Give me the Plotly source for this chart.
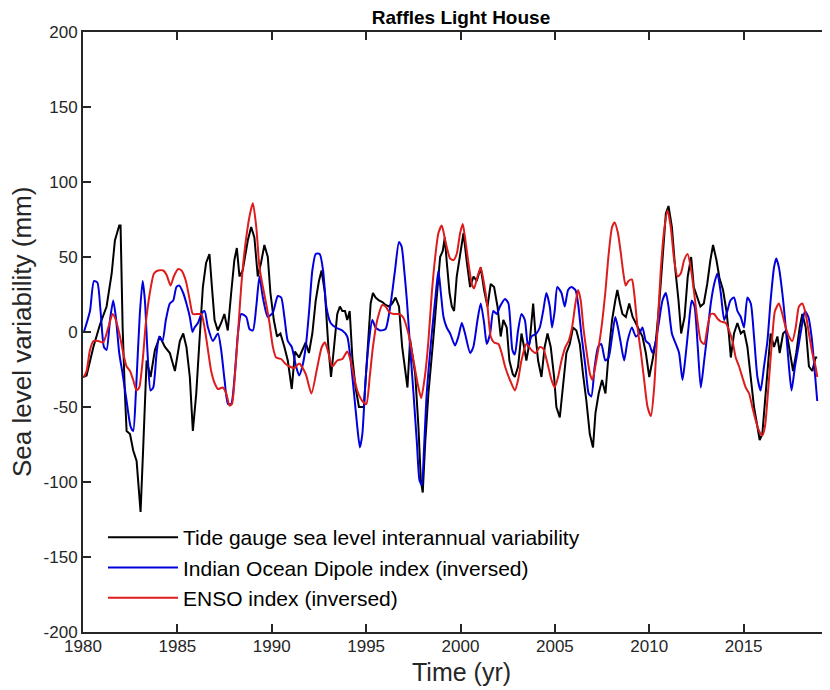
import plotly.graph_objects as go

# ---- Data ----
tg_years = [1980.0, 1980.19, 1980.55, 1980.90, 1981.25, 1981.52, 1981.69, 1981.92, 1981.99, 1982.10,
            1982.22, 1982.31, 1982.49, 1982.66, 1982.84, 1983.0, 1983.05, 1983.19, 1983.37, 1983.58,
            1983.81, 1984.07, 1984.34, 1984.60, 1984.87, 1985.13, 1985.31, 1985.48, 1985.66, 1985.82,
            1986.0, 1986.17, 1986.35, 1986.52, 1986.70, 1986.83, 1986.97, 1987.14, 1987.32, 1987.49,
            1987.67, 1987.85, 1988.02, 1988.15, 1988.29, 1988.46, 1988.73, 1988.91, 1989.08, 1989.26,
            1989.43, 1989.61, 1989.79, 1989.93, 1990.11, 1990.28, 1990.46, 1990.67, 1990.85, 1991.06,
            1991.23, 1991.45, 1991.62, 1991.80, 1991.97, 1992.15, 1992.33, 1992.50, 1992.64, 1992.82,
            1993.00, 1993.14, 1993.30, 1993.47, 1993.61, 1993.74, 1993.88, 1994.00, 1994.13, 1994.27,
            1994.44, 1994.62, 1994.88, 1995.06, 1995.24, 1995.36, 1995.50, 1995.68, 1995.86, 1996.03,
            1996.21, 1996.38, 1996.56, 1996.74, 1996.91, 1997.19, 1997.33, 1997.60, 1997.77, 1997.90,
            1998.00, 1998.13, 1998.30, 1998.57, 1998.74, 1998.92, 1999.06, 1999.17, 1999.27, 1999.42,
            1999.54, 1999.66, 1999.80, 1999.98, 2000.16, 2000.33, 2000.51, 2000.69, 2000.86, 2001.07,
            2001.25, 2001.43, 2001.60, 2001.78, 2001.96, 2002.13, 2002.27, 2002.45, 2002.59, 2002.77,
            2002.88, 2003.05, 2003.23, 2003.37, 2003.49, 2003.67, 2003.85, 2003.97, 2004.11, 2004.29,
            2004.46, 2004.61, 2004.78, 2004.96, 2005.08, 2005.26, 2005.43, 2005.61, 2005.79, 2005.96,
            2006.14, 2006.32, 2006.49, 2006.67, 2006.85, 2007.02, 2007.15, 2007.32, 2007.50, 2007.68,
            2007.85, 2008.03, 2008.20, 2008.31, 2008.45, 2008.58, 2008.76, 2008.94, 2009.12, 2009.38,
            2009.64, 2009.82, 2010.00, 2010.17, 2010.35, 2010.53, 2010.70, 2010.88, 2011.02, 2011.20,
            2011.37, 2011.55, 2011.69, 2011.87, 2012.04, 2012.22, 2012.36, 2012.54, 2012.71, 2012.89,
            2013.07, 2013.24, 2013.38, 2013.56, 2013.72, 2013.91, 2014.09, 2014.23, 2014.32, 2014.49,
            2014.67, 2014.85, 2015.02, 2015.20, 2015.38, 2015.55, 2015.73, 2015.85, 2015.99, 2016.17,
            2016.35, 2016.43, 2016.61, 2016.79, 2016.91, 2017.09, 2017.26, 2017.44, 2017.62, 2017.79,
            2017.97, 2018.11, 2018.29, 2018.46, 2018.64, 2018.81, 2018.90]
tg_values = [-30, -29, -10, 5, 17, 39, 61, 71, 71, 3,
             -41, -66, -68, -79, -86, -110, -120, -77, -19, -30,
             -12, -3, -10, -14, -26, -6, -1, -10, -30, -66,
             -41, -6, 30, 46, 52, 30, 8, 1, 6, 12,
             1, 26, 48, 56, 37, 41, 61, 70, 63, 37,
             46, 58, 50, 26, 8, -3, -1, -10, -19, -38,
             -13, -17, -12, -7, -14, -1, 21, 34, 41, 26,
             -10, -30, -10, 12, 17, 14, 14, 8, 14, -17,
             -37, -50, -50, -17, 19, 26, 23, 21, 20, 18,
             17, 19, 23, 17, -10, -37, -5, -28, -63, -99,
             -107, -74, -41, -3, 26, 50, 54, 63, 47, 26,
             17, 14, 37, 52, 66, 47, 30, 37, 34, 43,
             28, 17, 32, 30, 17, -3, 8, 3, -19, -28,
             -30, -23, -1, -10, -19, -6, 19, -1, -19, -30,
             -10, -1, -10, -30, -50, -57, -37, -14, -8, 3,
             1, -8, -28, -46, -68, -77, -54, -41, -32, -41,
             -14, 8, 21, 28, 19, 12, 10, 19, 10, 3,
             -3, -14, -30, -19, -6, 19, 48, 79, 84, 70,
             43, 21, -1, 10, 37, 50, 30, 23, 17, 19,
             32, 48, 58, 48, 36, 28, 14, -3, -17, -1,
             6, -1, 1, -10, -30, -50, -63, -72, -68, -41,
             -10, -1, -10, -3, -14, -1, 1, -14, -26, -14,
             3, 12, 3, -23, -26, -17, -17]

iod_years = [1980.05, 1980.37, 1980.58, 1980.76, 1980.93, 1981.11, 1981.25, 1981.43, 1981.60, 1981.74,
             1981.92, 1982.10, 1982.31, 1982.52, 1982.66, 1982.80, 1983.01, 1983.16, 1983.28, 1983.42,
             1983.58, 1983.72, 1983.90, 1984.04, 1984.21, 1984.39, 1984.60, 1984.78, 1984.95, 1985.10,
             1985.31, 1985.48, 1985.66, 1985.80, 1985.91, 1986.09, 1986.27, 1986.44, 1986.62, 1986.88,
             1987.15, 1987.32, 1987.50, 1987.68, 1987.85, 1988.03, 1988.21, 1988.38, 1988.65, 1988.82,
             1989.00, 1989.18, 1989.35, 1989.53, 1989.79, 1990.06, 1990.32, 1990.50, 1990.67, 1990.85,
             1991.06, 1991.29, 1991.45, 1991.62, 1991.80, 1991.98, 1992.15, 1992.33, 1992.54, 1992.72,
             1992.89, 1993.12, 1993.39, 1993.74, 1994.00, 1994.18, 1994.36, 1994.53, 1994.67, 1994.80,
             1994.97, 1995.15, 1995.33, 1995.50, 1995.77, 1996.03, 1996.30, 1996.53, 1996.74, 1996.88,
             1997.02, 1997.16, 1997.33, 1997.51, 1997.69, 1997.83, 1997.95, 1998.07, 1998.21, 1998.48,
             1998.71, 1998.83, 1998.96, 1999.10, 1999.27, 1999.45, 1999.71, 1999.89, 2000.07, 2000.24,
             2000.51, 2000.68, 2000.90, 2001.07, 2001.25, 2001.39, 2001.57, 2001.74, 2001.92, 2002.09,
             2002.36, 2002.54, 2002.75, 2002.88, 2003.05, 2003.23, 2003.41, 2003.58, 2003.76, 2004.02,
             2004.20, 2004.38, 2004.55, 2004.73, 2004.85, 2004.99, 2005.13, 2005.35, 2005.52, 2005.70,
             2005.87, 2006.09, 2006.23, 2006.40, 2006.62, 2006.79, 2006.93, 2007.11, 2007.29, 2007.46,
             2007.67, 2007.85, 2008.03, 2008.20, 2008.34, 2008.50, 2008.67, 2008.85, 2009.08, 2009.29,
             2009.47, 2009.64, 2009.82, 2010.00, 2010.17, 2010.35, 2010.53, 2010.70, 2010.88, 2011.02,
             2011.20, 2011.41, 2011.58, 2011.76, 2011.90, 2012.08, 2012.25, 2012.40, 2012.57, 2012.73,
             2012.91, 2013.08, 2013.26, 2013.44, 2013.61, 2013.79, 2013.97, 2014.14, 2014.30, 2014.49,
             2014.67, 2014.85, 2015.02, 2015.20, 2015.38, 2015.55, 2015.73, 2015.90, 2016.08, 2016.26,
             2016.43, 2016.61, 2016.73, 2016.87, 2017.05, 2017.23, 2017.40, 2017.54, 2017.72, 2017.90,
             2018.07, 2018.25, 2018.43, 2018.60, 2018.78, 2018.90]
iod_values = [0, 14, 34, 33, 14, -10, -12, 8, 21, 10,
              -14, -28, -46, -63, -66, -41, 12, 34, 21, -14,
              -39, -37, -14, -3, -6, 8, 19, 21, 30, 31,
              26, 19, 10, 0, 3, 6, 12, 14, 3, -6,
              -1, -12, -32, -48, -48, -30, -1, 12, 10, 2,
              1, 17, 37, 23, 10, 13, 24, 23, 10, -6,
              -10, -23, -29, -23, -10, 14, 41, 52, 52, 41,
              17, 6, 3, 1, -3, -19, -41, -63, -77, -68,
              -32, -6, 8, 3, 1, 2, 19, 41, 60, 57,
              41, 21, -10, -41, -74, -99, -102, -77, -41, -1,
              28, 41, 26, 10, 3, -1, -9, -3, 6, -1,
              -14, -10, 8, 19, 6, -8, -1, 14, 12, 17,
              22, 19, -12, -15, 1, 12, 8, -10, -3, -1,
              3, 14, 26, 17, 3, 14, 30, 26, 17, 28,
              30, 28, 19, -1, -23, -41, -43, -23, -10, -8,
              -19, -17, -3, 10, 3, -8, -19, -6, 3, -3,
              -1, 3, -6, -8, -14, -6, 8, 21, 26, 17,
              -1, -8, -14, -32, -19, 3, 21, 17, -10, -37,
              -19, -1, 19, 32, 39, 26, 8, 14, 21, 23,
              14, 10, 3, 23, 19, -3, -30, -39, -23, -6,
              21, 43, 49, 43, 26, 3, -23, -39, -23, -10,
              3, 14, 10, -3, -28, -46]

enso_years = [1980.05, 1980.19, 1980.37, 1980.55, 1980.81, 1981.07, 1981.34, 1981.57, 1981.74, 1981.96,
              1982.13, 1982.31, 1982.49, 1982.66, 1982.84, 1982.98, 1983.16, 1983.33, 1983.54, 1983.76,
              1983.98, 1984.25, 1984.43, 1984.64, 1984.81, 1985.04, 1985.22, 1985.45, 1985.66, 1985.82,
              1986.09, 1986.27, 1986.44, 1986.62, 1986.79, 1986.97, 1987.15, 1987.41, 1987.59, 1987.76,
              1987.89, 1988.03, 1988.21, 1988.38, 1988.56, 1988.82, 1989.00, 1989.18, 1989.35, 1989.53,
              1989.70, 1989.88, 1990.06, 1990.23, 1990.50, 1990.71, 1990.94, 1991.20, 1991.45, 1991.80,
              1992.10, 1992.42, 1992.65, 1992.82, 1993.00, 1993.21, 1993.47, 1993.74, 1994.00, 1994.18,
              1994.36, 1994.53, 1994.80, 1995.01, 1995.19, 1995.36, 1995.59, 1995.86, 1996.03, 1996.24,
              1996.47, 1996.74, 1996.95, 1997.24, 1997.51, 1997.77, 1997.92, 1998.13, 1998.30, 1998.48,
              1998.66, 1998.83, 1999.01, 1999.19, 1999.45, 1999.63, 1999.80, 1999.98, 2000.12, 2000.24,
              2000.42, 2000.60, 2000.72, 2000.90, 2001.07, 2001.25, 2001.43, 2001.60, 2001.78, 2002.01,
              2002.18, 2002.36, 2002.62, 2002.88, 2003.05, 2003.23, 2003.49, 2003.76, 2003.97, 2004.20,
              2004.38, 2004.61, 2004.82, 2004.99, 2005.17, 2005.35, 2005.56, 2005.73, 2005.91, 2006.09,
              2006.23, 2006.37, 2006.51, 2006.69, 2006.86, 2006.99, 2007.14, 2007.32, 2007.50, 2007.67,
              2007.85, 2008.03, 2008.17, 2008.34, 2008.50, 2008.62, 2008.75, 2008.90, 2009.08, 2009.20,
              2009.38, 2009.56, 2009.73, 2009.91, 2010.09, 2010.26, 2010.44, 2010.61, 2010.79, 2010.97,
              2011.14, 2011.32, 2011.50, 2011.67, 2011.85, 2012.03, 2012.20, 2012.38, 2012.55, 2012.73,
              2012.91, 2013.08, 2013.26, 2013.44, 2013.61, 2013.79, 2014.05, 2014.23, 2014.41, 2014.58,
              2014.76, 2014.93, 2015.11, 2015.29, 2015.46, 2015.64, 2015.82, 2015.99, 2016.13, 2016.31,
              2016.49, 2016.66, 2016.87, 2017.05, 2017.23, 2017.40, 2017.58, 2017.76, 2017.93, 2018.11,
              2018.29, 2018.46, 2018.64, 2018.81, 2018.90]
enso_values = [-30, -26, -12, -6, -6, -7, 3, 12, 8, -3,
               -14, -23, -26, -32, -39, -37, -19, 6, 26, 39,
               41, 41, 38, 31, 37, 42, 41, 34, 21, 12,
               12, 12, 3, -12, -26, -34, -38, -37, -41, -49,
               -48, -32, -1, 30, 54, 77, 86, 70, 43, 30,
               19, 6, -10, -17, -18, -21, -23, -24, -21, -28,
               -41, -23, -10, -7, -14, -23, -19, -18, -13, -19,
               -30, -39, -46, -48, -30, -10, 8, 18, 17, 13,
               12, 12, 10, -1, -19, -37, -44, -28, -6, 26,
               50, 66, 71, 61, 49, 48, 52, 66, 72, 63,
               46, 32, 29, 37, 43, 32, 17, -3, -7, -8,
               -14, -23, -32, -39, -32, -19, -8, -12, -14, -10,
               -11, -21, -32, -37, -30, -19, -10, -6, 3, 19,
               28, 21, 3, -14, -28, -32, -23, -10, 6, 26,
               52, 70, 73, 66, 52, 40, 31, 34, 35, 26,
               3, -14, -32, -50, -56, -37, 3, 41, 68, 81,
               70, 48, 37, 39, 48, 52, 43, 26, 8, -6,
               -8, 3, 12, 12, 9, 7, 6, 1, -6, -17,
               -23, -30, -37, -41, -50, -59, -66, -69, -63, -37,
               -8, 14, 19, 12, 3, -3, -6, 3, 17, 19,
               12, -1, -14, -23, -30]

series_names = ["Tide gauge sea level interannual variability",
                "Indian Ocean Dipole index (inversed)",
                "ENSO index (inversed)"]
series_colors = ["#000000", "#0000DD", "#DD1C1C"]

y_tick_vals = [-200, -150, -100, -50, 0, 50, 100, 150, 200]
y_tick_text = ["-200", "-150", "-100", "-50", "0", "50", "100", "150", "200"]
x_tick_vals = [1980, 1985, 1990, 1995, 2000, 2005, 2010, 2015]

FONT = "Liberation Sans, Arial, sans-serif"
AX = "#262626"

# plot area in figure pixels (page adds an 8px body margin)
ML, MT, MB = 75, 24, 66
PW, PH = 830 - ML, 690 - MT - MB

fig = go.Figure()
fig.add_trace(go.Scatter(x=tg_years, y=tg_values, mode="lines", name=series_names[0],
                         line=dict(color=series_colors[0], width=2), legendgroup="a"))
fig.add_trace(go.Scatter(x=iod_years, y=iod_values, mode="lines", name=series_names[1],
                         line=dict(color=series_colors[1], width=2, shape="spline", smoothing=0.6),
                         legendgroup="b"))
fig.add_trace(go.Scatter(x=enso_years, y=enso_values, mode="lines", name=series_names[2],
                         line=dict(color=series_colors[2], width=2, shape="spline", smoothing=0.6),
                         legendgroup="c"))

fig.update_layout(
    width=830, height=690,
    margin=dict(l=ML, r=0, t=MT, b=MB, autoexpand=False),
    paper_bgcolor="white", plot_bgcolor="white",
    font=dict(family=FONT, color=AX),
    title=dict(text="<b>Raffles Light House</b>", x=(453 - ML) / PW, xref="paper",
               y=1 - 9 / 690, yref="container", xanchor="center", yanchor="middle",
               font=dict(size=19, color="#000000", family=FONT), automargin=False),
    showlegend=True,
    legend=dict(x=(95 - ML) / PW, y=(690 - MB - 509) / PH, xanchor="left", yanchor="top",
                bgcolor="rgba(0,0,0,0)", borderwidth=0, itemwidth=70,
                font=dict(size=21, color="#000000", family=FONT),
                tracegroupgap=3, traceorder="normal"),
    annotations=[
        dict(text="Sea level variability (mm)", xref="paper", yref="paper",
             x=(14 - ML) / PW, y=0.5, xanchor="center", yanchor="middle",
             textangle=-90, showarrow=False, font=dict(size=26, color=AX, family=FONT)),
        dict(text="Time (yr)", xref="paper", yref="paper",
             x=(453 - ML) / PW, y=(690 - MB - 664) / PH, xanchor="center", yanchor="middle",
             showarrow=False, font=dict(size=25, color=AX, family=FONT)),
    ],
)
fig.update_xaxes(range=[1980, 2020], tickvals=x_tick_vals, ticks="inside", ticklen=8,
                 tickwidth=1.5, tickcolor=AX, showline=True, linecolor=AX,
                 linewidth=2, mirror="ticks", showgrid=False, zeroline=False, automargin=False,
                 tickfont=dict(size=17, color=AX), ticklabelstandoff=-2)
fig.update_yaxes(range=[-200, 200], tickvals=y_tick_vals, ticktext=y_tick_text, ticks="inside",
                 ticklen=8, tickwidth=1.5, tickcolor=AX, showline=True, automargin=False,
                 linecolor=AX, linewidth=2, mirror="ticks", showgrid=False, zeroline=False,
                 tickfont=dict(size=17, color=AX))

fig.write_html("out.html")
